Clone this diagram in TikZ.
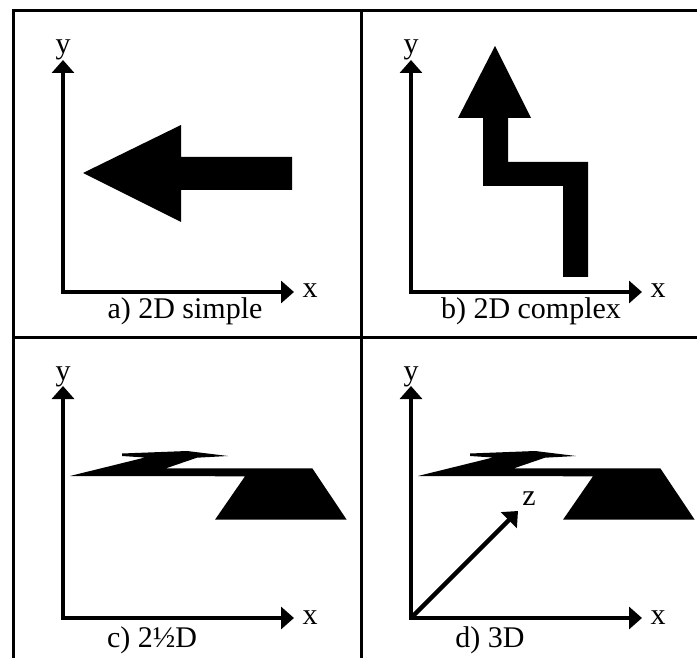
\documentclass[tikz,border=0pt]{standalone}
\usepackage{fontspec}
\setmainfont{Liberation Serif}
\usetikzlibrary{arrows.meta}
\tikzset{frame/.style={line width=3pt},
	axes/.style={line width=4.5pt,{Triangle[length=13pt,width=22pt]}-{Triangle[length=13pt,width=22pt]}},
	axis/.style={line width=4.5pt,-{Triangle[length=13pt,width=22pt]}},
	lbl/.style={font=\fontsize{30}{32}\selectfont,anchor=base,inner sep=0pt}}

\begin{document}
\begin{tikzpicture}[x=1pt,y=-1pt]
	\useasboundingbox (0,0) rectangle (697,658);
	% frame
	\draw[frame] (13,658) -- (13,11) -- (697,11);
	\draw[frame] (361,11) -- (361,658);
	\draw[frame] (13,337) -- (697,337);
	% a) 2D simple
	\begin{scope}[shift={(63,292)}]
	\coordinate (oa) at (0,0);
	\coordinate (ya) at (0,-232);
	\coordinate (xa) at (231,0);
	\draw[axes] (ya) -- (oa) -- (xa);
	\node[lbl] (lya) at (0,-238) {y};
	\node[lbl] (lxa) at (247,6) {x};
	\node[lbl] (capa) at (122,27) {a) 2D simple};
	\end{scope}
	\fill (83,173) -- (181,125) -- (181,157) -- (292,157) -- (292,190) -- (181,190) -- (181,222) -- cycle;
	% b) 2D complex
	\begin{scope}[shift={(411,292)}]
	\coordinate (ob) at (0,0);
	\coordinate (yb) at (0,-232);
	\coordinate (xb) at (231,0);
	\draw[axes] (yb) -- (ob) -- (xb);
	\node[lbl] (lyb) at (0,-238) {y};
	\node[lbl] (lxb) at (247,6) {x};
	\node[lbl] (capb) at (120,27) {b) 2D complex};
	\end{scope}
	\fill (495,46) -- (531,118) -- (508,118) -- (508,162) -- (588,162) -- (588,277) -- (563,277) -- (563,186) -- (483,186) -- (483,118) -- (458,118) -- cycle;
	% c) 2 1/2 D
	\begin{scope}[shift={(63,618)}]
	\coordinate (oc) at (0,0);
	\coordinate (yc) at (0,-232);
	\coordinate (xc) at (231,0);
	\draw[axes] (yc) -- (oc) -- (xc);
	\node[lbl] (lyc) at (0,-238) {y};
	\node[lbl] (lxc) at (247,6) {x};
	\node[lbl] (capc) at (89,29) {c) 2½D};
	\end{scope}
	\fill (70,476) -- (145,457.5) -- (122,456) -- (122,453.5) -- (187,451) -- (228,456) -- (197,457.7) -- (166,468.3) -- (312.3,468.3) -- (346.7,519.7) -- (215,519.7) -- (245,476.3) -- cycle;
	% d) 3D
	\begin{scope}[shift={(411,618)}]
	\coordinate (od) at (0,0);
	\coordinate (yd) at (0,-232);
	\coordinate (xd) at (231,0);
	\coordinate (zd) at (107,-107);
	\draw[axes] (yd) -- (od) -- (xd);
	\draw[axis] (od) -- (zd);
	\node[lbl] (lyd) at (0,-238) {y};
	\node[lbl] (lxd) at (247,6) {x};
	\node[lbl] (lzd) at (118,-113) {z};
	\node[lbl] (capd) at (79,29) {d) 3D};
	\end{scope}
	\begin{scope}[shift={(348,0)}]
	\fill (70,476) -- (145,457.5) -- (122,456) -- (122,453.5) -- (187,451) -- (228,456) -- (197,457.7) -- (166,468.3) -- (312.3,468.3) -- (346.7,519.7) -- (215,519.7) -- (245,476.3) -- cycle;
	\end{scope}
\end{tikzpicture}
\end{document}
